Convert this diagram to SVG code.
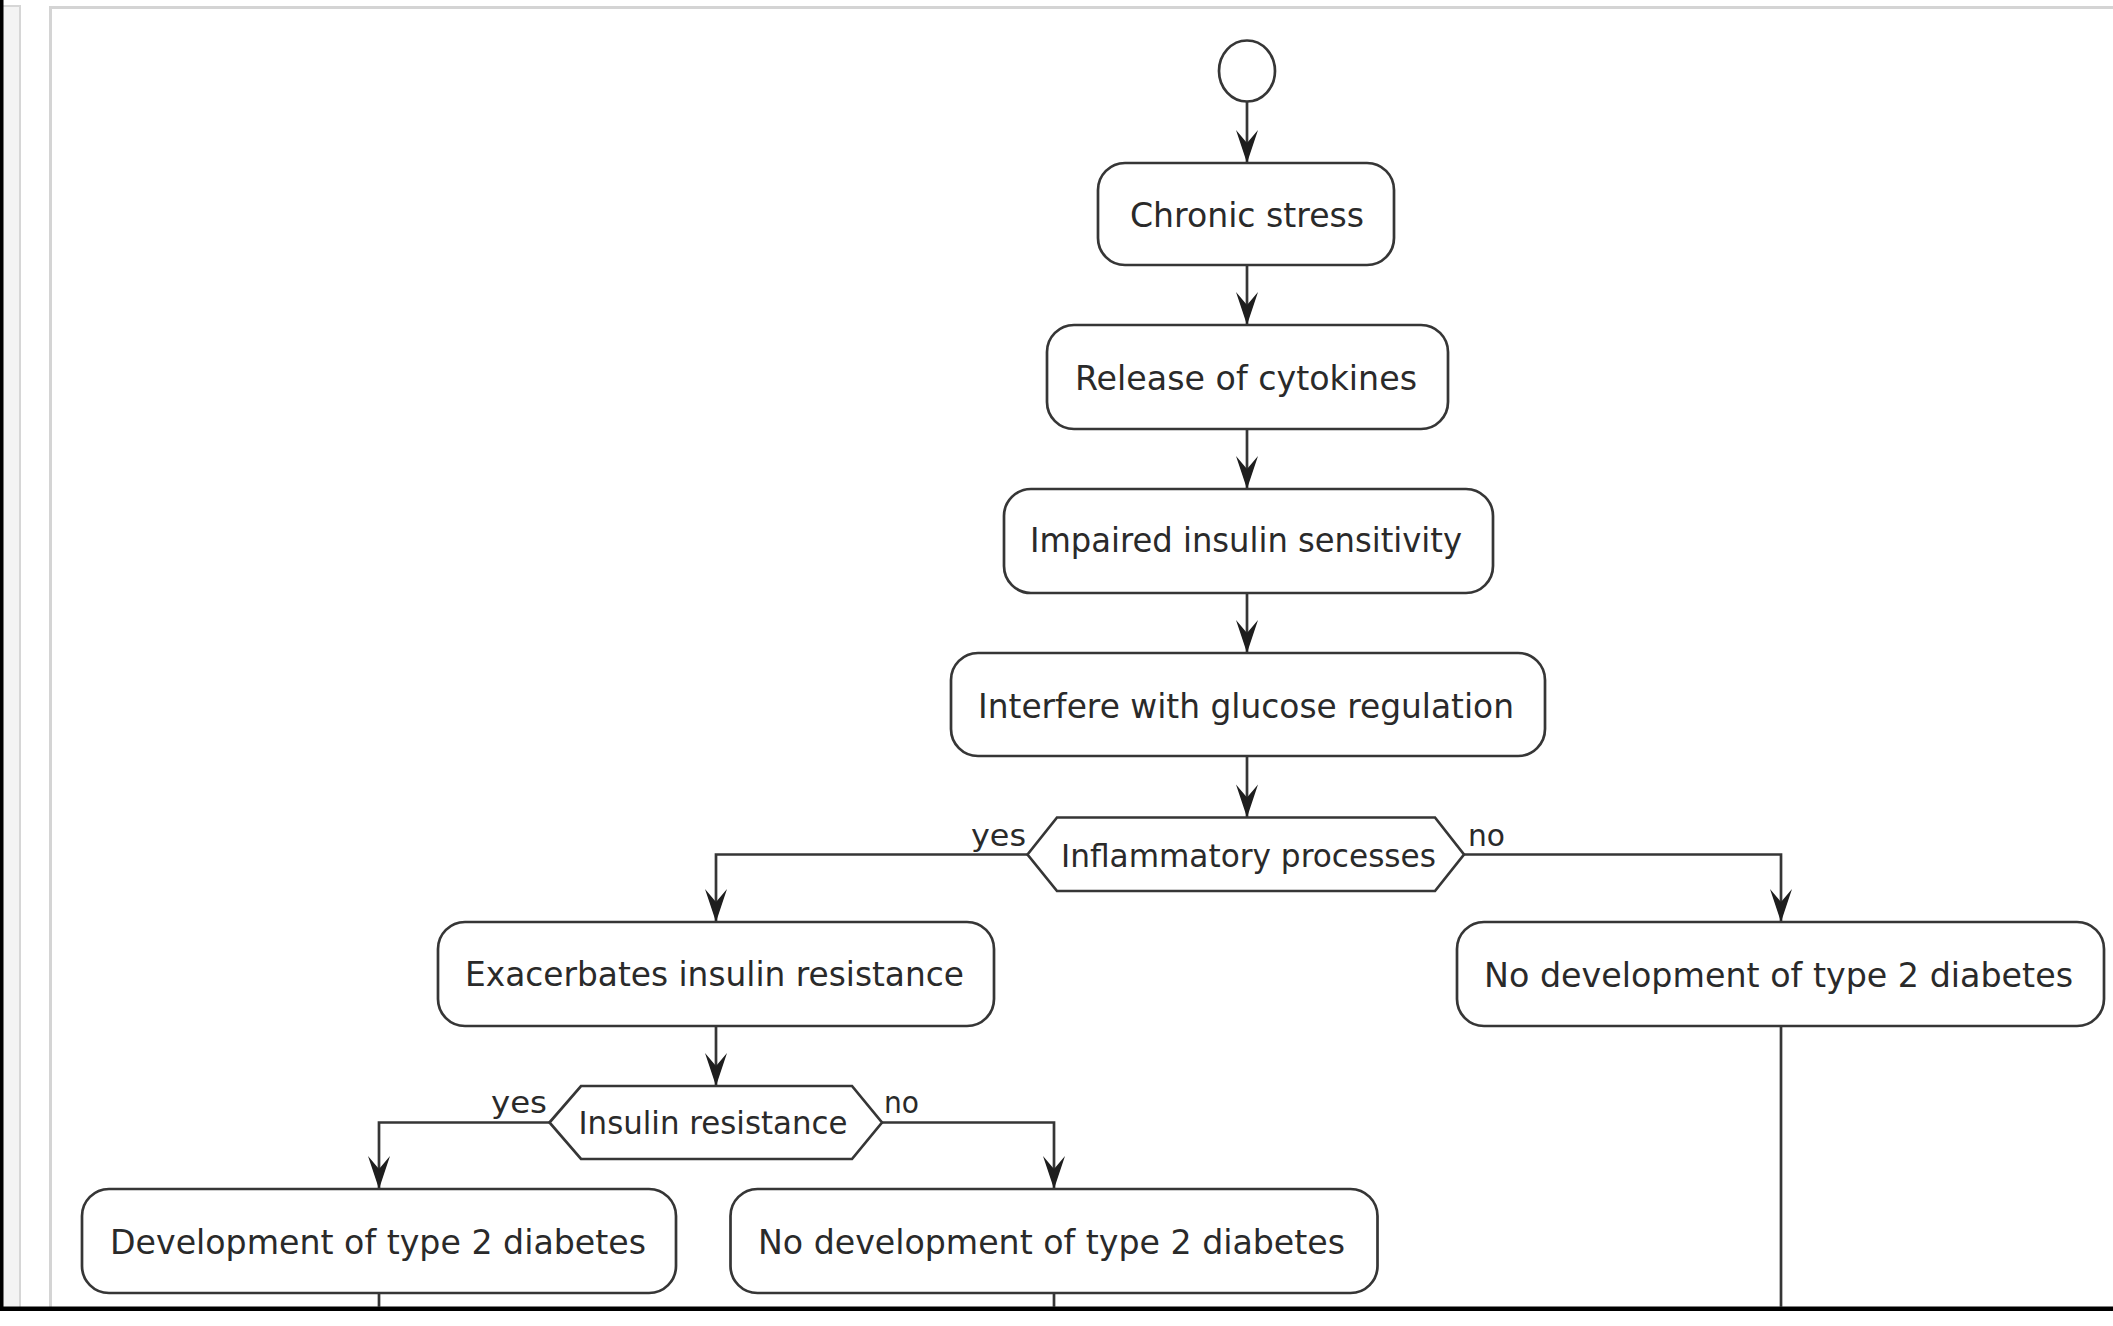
<svg xmlns="http://www.w3.org/2000/svg" width="2113" height="1326" viewBox="0 0 2113 1326">
<style>
.bg{fill:#ffffff}
.node rect,.node polygon,.node ellipse{fill:#ffffff;stroke:#363636;stroke-width:2.7}
.t{font-family:"DejaVu Sans","Liberation Sans",sans-serif;fill:#2a2a2a;font-size:34px}
.d{font-size:32px}
.lbl{font-family:"DejaVu Sans","Liberation Sans",sans-serif;fill:#2a2a2a;font-size:31px}
.edge{fill:none;stroke:#363636;stroke-width:2.7}
.head{fill:#1e1e1e;stroke:none}
</style>
<defs>
<marker id="arr" markerUnits="userSpaceOnUse" viewBox="-34 -12 36 24" refX="0" refY="0" markerWidth="36" markerHeight="24" orient="auto" overflow="visible">
<path class="head" d="M0,0 L-33,-11 L-20,0 L-33,11 Z"/>
</marker>
</defs>
<rect class="bg" x="0" y="0" width="2113" height="1326"/>
<g id="frame">
<rect x="2" y="6" width="18" height="1302" fill="#f3f3f3" stroke="#d6d6d6" stroke-width="2"/>
<path d="M50.5,1307 L50.5,7.5 L2113,7.5" fill="none" stroke="#d4d4d4" stroke-width="3"/>
<rect x="0" y="0" width="3.5" height="1311" fill="#000000"/>
<rect x="0" y="1306.5" width="2113" height="4.5" fill="#000000"/>
</g>
<g id="connectors">
<path class="edge" d="M1247,102 L1247,163" marker-end="url(#arr)"/>
<path class="edge" d="M1247,265 L1247,325" marker-end="url(#arr)"/>
<path class="edge" d="M1247,429 L1247,489" marker-end="url(#arr)"/>
<path class="edge" d="M1247,593 L1247,653" marker-end="url(#arr)"/>
<path class="edge" d="M1247,756 L1247,817.5" marker-end="url(#arr)"/>
<path class="edge" d="M1027.5,854.5 L716,854.5 L716,922" marker-end="url(#arr)"/>
<path class="edge" d="M1464,854.5 L1781,854.5 L1781,922" marker-end="url(#arr)"/>
<path class="edge" d="M716,1026 L716,1086" marker-end="url(#arr)"/>
<path class="edge" d="M549.5,1122.5 L379,1122.5 L379,1189" marker-end="url(#arr)"/>
<path class="edge" d="M882,1122.5 L1054,1122.5 L1054,1189" marker-end="url(#arr)"/>
<path class="edge" d="M379,1293 L379,1307"/>
<path class="edge" d="M1054,1293 L1054,1307"/>
<path class="edge" d="M1781,1026 L1781,1307"/>
<text class="lbl" x="971" y="846" textLength="55" lengthAdjust="spacingAndGlyphs">yes</text>
<text class="lbl" x="1468" y="846" textLength="37" lengthAdjust="spacingAndGlyphs">no</text>
<text class="lbl" x="491" y="1113" textLength="56" lengthAdjust="spacingAndGlyphs">yes</text>
<text class="lbl" x="884" y="1113" textLength="35" lengthAdjust="spacingAndGlyphs">no</text>
</g>
<g id="start" class="node">
<ellipse cx="1247" cy="71" rx="28" ry="30.5"/>
</g>
<g id="chronic" class="node">
<rect x="1098" y="163" width="296" height="102" rx="27" ry="27"/>
<text class="t" x="1130" y="227" textLength="234" lengthAdjust="spacingAndGlyphs">Chronic stress</text>
</g>
<g id="release" class="node">
<rect x="1047" y="325" width="401" height="104" rx="27" ry="27"/>
<text class="t" x="1075" y="390" textLength="342" lengthAdjust="spacingAndGlyphs">Release of cytokines</text>
</g>
<g id="impaired" class="node">
<rect x="1004" y="489" width="489" height="104" rx="27" ry="27"/>
<text class="t" x="1030" y="552" textLength="432" lengthAdjust="spacingAndGlyphs">Impaired insulin sensitivity</text>
</g>
<g id="interfere" class="node">
<rect x="951" y="653" width="594" height="103" rx="27" ry="27"/>
<text class="t" x="978" y="718" textLength="536" lengthAdjust="spacingAndGlyphs">Interfere with glucose regulation</text>
</g>
<g id="inflammatory" class="node">
<polygon points="1027.5,854.5 1057,817.5 1435,817.5 1464,854.5 1435,891 1057,891"/>
<text class="t d" x="1061" y="867" textLength="375" lengthAdjust="spacingAndGlyphs">Inflammatory processes</text>
</g>
<g id="exacerbates" class="node">
<rect x="438" y="922" width="556" height="104" rx="27" ry="27"/>
<text class="t" x="465" y="986" textLength="499" lengthAdjust="spacingAndGlyphs">Exacerbates insulin resistance</text>
</g>
<g id="nodev-right" class="node">
<rect x="1457" y="922" width="647" height="104" rx="27" ry="27"/>
<text class="t" x="1484" y="987" textLength="589" lengthAdjust="spacingAndGlyphs">No development of type 2 diabetes</text>
</g>
<g id="insulin-resistance" class="node">
<polygon points="549.5,1122.5 581,1086 852,1086 882,1122.5 852,1159 581,1159"/>
<text class="t d" x="578.5" y="1134" textLength="269" lengthAdjust="spacingAndGlyphs">Insulin resistance</text>
</g>
<g id="development" class="node">
<rect x="82" y="1189" width="594" height="104" rx="27" ry="27"/>
<text class="t" x="110" y="1254" textLength="536" lengthAdjust="spacingAndGlyphs">Development of type 2 diabetes</text>
</g>
<g id="nodev-mid" class="node">
<rect x="730.5" y="1189" width="647" height="104" rx="27" ry="27"/>
<text class="t" x="758" y="1254" textLength="587" lengthAdjust="spacingAndGlyphs">No development of type 2 diabetes</text>
</g>
</svg>
